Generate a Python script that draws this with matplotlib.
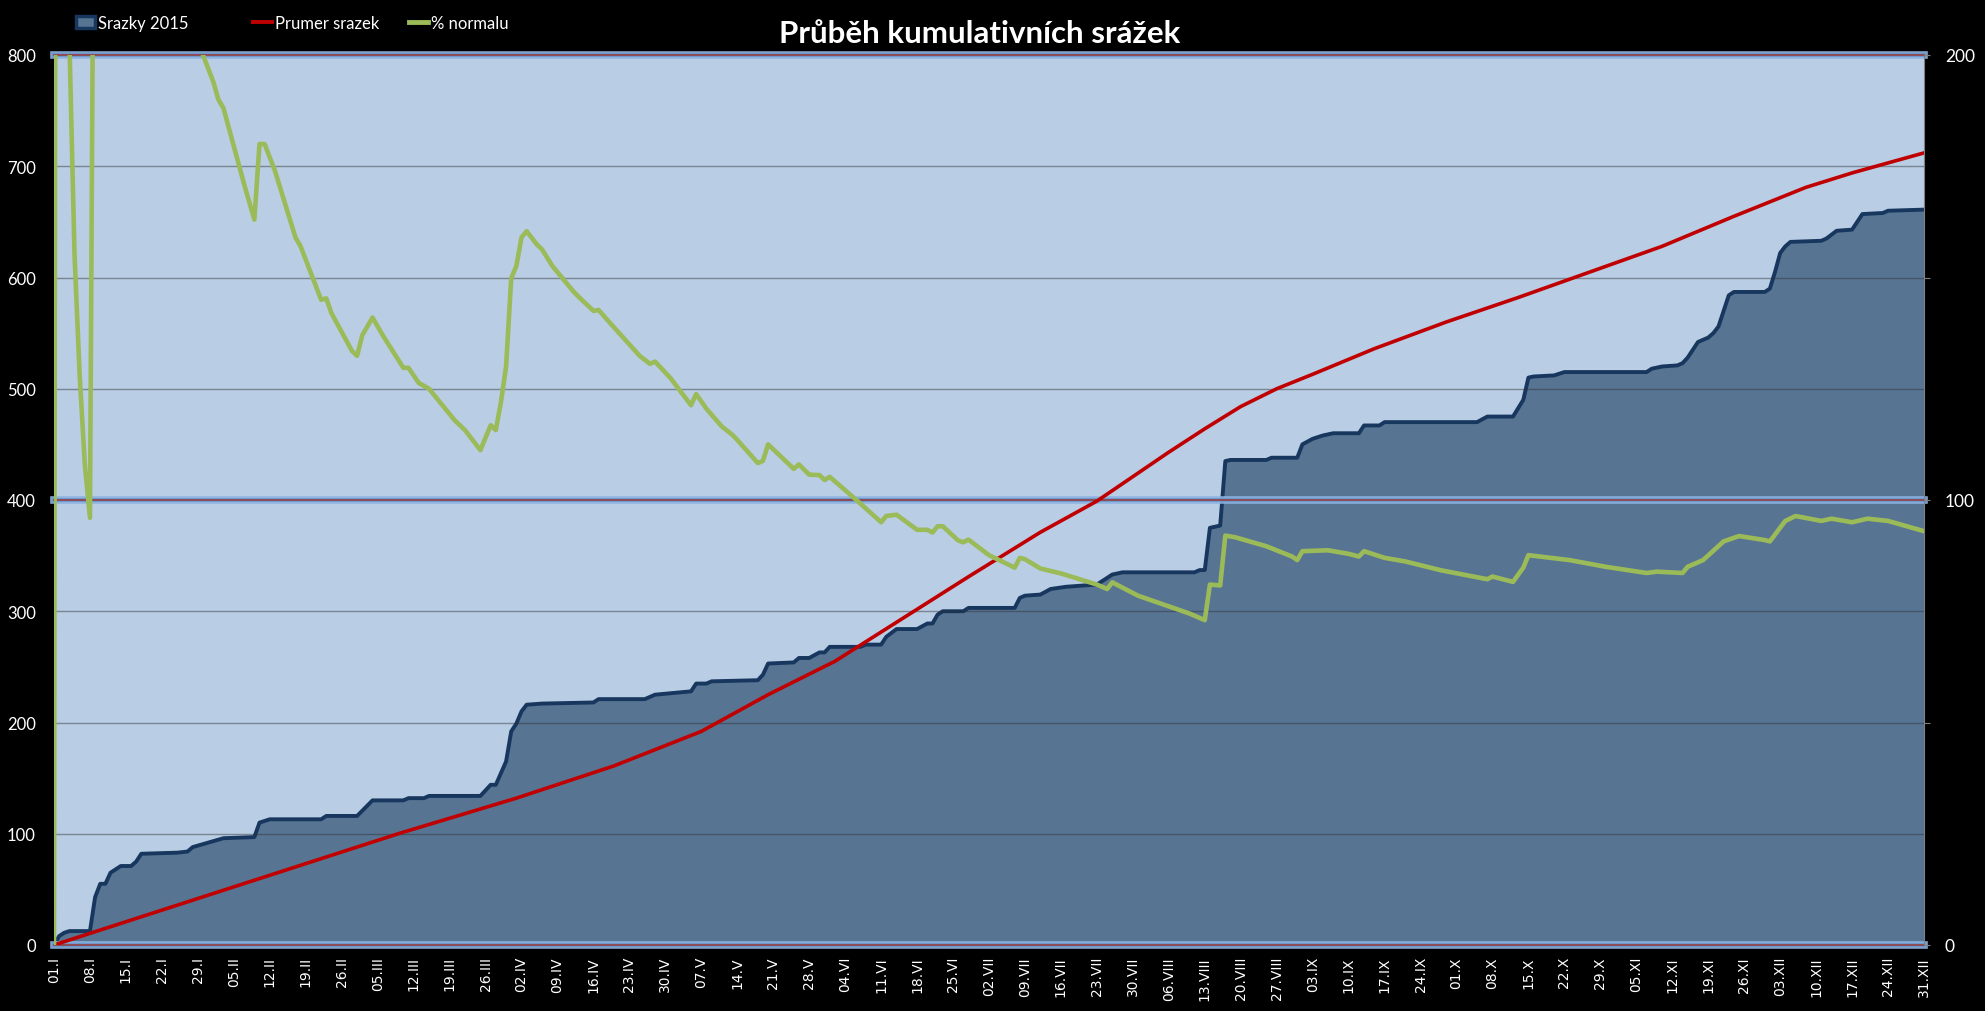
import matplotlib.pyplot as plt
from matplotlib.lines import Line2D
from matplotlib.patches import Patch

# day index 0 = 01.I.2015
srazky_days = [0, 1, 2, 3, 7, 8, 9, 10, 11, 13, 15, 16, 17, 24, 26, 27, 30, 33, 39, 40,
               42, 52, 53, 59, 62, 68, 69, 72, 73, 83, 85, 86, 88, 89, 90, 91, 92, 95, 105, 106,
               115, 117, 124, 125, 127, 128, 137, 138, 139, 144, 145, 147, 149, 150, 151, 157, 158, 161, 162, 164,
               168, 170, 171, 172, 173, 177, 178, 187, 188, 189, 192, 194, 197, 203, 204, 206, 208, 222, 223, 224,
               225, 227, 228, 229, 236, 237, 242, 243, 245, 247, 249, 254, 255, 258, 259, 277, 279, 284, 286, 287,
               288, 292, 294, 310, 311, 313, 316, 317, 318, 319, 320, 322, 323, 324, 325, 326, 327, 333, 334, 335,
               336, 337, 338, 344, 345, 347, 350, 351, 352, 356, 357, 364]
srazky_mm = [0, 8, 11, 12.5, 12.5, 43, 55, 55, 65, 71, 71, 75, 82, 83, 84, 88, 92, 96, 97, 110,
             113, 113, 116, 116, 130, 130, 132, 132, 134, 134, 144, 144, 165, 192, 199, 210, 216, 217, 218, 221,
             221, 225, 228, 235, 235, 237, 238, 243, 253, 254, 258, 258, 263, 263, 268, 268, 270, 270, 277, 284,
             284, 289, 289, 297, 300, 300, 303, 303, 312, 314, 315, 320, 322, 324, 327, 333, 335, 335, 337, 337,
             375, 377, 435, 436, 436, 438, 438, 450, 455, 458, 460, 460, 467, 467, 470, 470, 475, 475, 490, 510,
             511, 512, 515, 515, 518, 520, 521, 523, 528, 535, 542, 546, 550, 556, 570, 584, 587, 587, 590, 605,
             622, 628, 632, 633, 635, 642, 643, 650, 657, 658, 660, 661]

prumer_days = [0, 67, 90, 109, 126, 139, 152, 165, 178, 192, 203, 210, 217, 224, 231, 238, 245,
               257, 271, 285, 299, 313, 327, 341, 350, 357, 364]
prumer_mm = [0, 100, 132, 161, 192, 225, 255, 293, 331, 371, 399, 421, 443, 464, 484, 500, 513,
             536, 560, 582, 605, 628, 655, 681, 694, 703, 712]

normal_days = [0, 1, 2, 3, 4, 5, 6, 7, 8, 9, 20, 28, 29, 31, 32, 33, 37, 39, 40, 41,
               43, 47, 48, 52, 53, 54, 58, 59, 60, 62, 64, 68, 69, 71, 73, 78, 80, 83, 85, 86,
               87, 88, 89, 90, 91, 92, 94, 95, 97, 101, 102, 105, 106, 109, 114, 116, 117, 120, 124, 125,
               127, 130, 132, 133, 137, 138, 139, 144, 145, 147, 149, 150, 151, 156, 161, 162, 164, 168, 170, 171,
               172, 173, 176, 177, 178, 182, 187, 188, 189, 192, 196, 203, 205, 206, 211, 221, 224, 225, 227, 228,
               230, 236, 241, 242, 243, 248, 252, 254, 255, 259, 263, 270, 279, 280, 284, 286, 287, 295, 302, 310,
               312, 317, 318, 321, 325, 328, 333, 334, 337, 339, 344, 346, 350, 353, 357, 364]
normal_pct = [0, 900, 300, 203, 155, 128, 108, 96, 300, 400, 270, 203, 200, 194, 190, 188, 171, 163, 180, 180,
              174, 159, 157, 145, 145.3, 142, 133.5, 132.4, 137, 141, 137, 129.7, 129.7, 126.3, 125, 117.9, 115.7, 111.2, 116.8, 115.7,
              122, 130, 149.8, 152.6, 159, 160.4, 157.4, 156.3, 152.6, 147, 145.8, 142.5, 142.7, 138.8, 132.4, 130.6, 131.1, 127.4, 121.3, 123.8,
              120.5, 116.5, 114.7, 113.5, 108.3, 108.8, 112.5, 107, 108, 105.7, 105.6, 104.5, 105.2, 100.2, 95, 96.4, 96.7, 93.3, 93.3, 92.7,
              94.1, 94.1, 90.9, 90.5, 91.1, 87.6, 84.8, 87, 86.7, 84.6, 83.5, 81, 80, 81.5, 78.5, 74.5, 73, 81, 80.8, 92,
              91.6, 89.6, 87.3, 86.5, 88.5, 88.7, 87.9, 87.3, 88.5, 87, 86.2, 84.2, 82.2, 82.8, 81.6, 84.8, 87.6, 86.5, 85, 83.6,
              83.9, 83.6, 85, 86.5, 90.7, 91.9, 91, 90.7, 95.3, 96.4, 95.3, 95.8, 95, 95.8, 95.3, 93]

tick_days = list(range(0, 365, 7))
tick_labels = ['01.I', '08.I', '15.I', '22.I', '29.I', '05.II', '12.II', '19.II', '26.II',
               '05.III', '12.III', '19.III', '26.III', '02.IV', '09.IV', '16.IV', '23.IV', '30.IV',
               '07.V', '14.V', '21.V', '28.V', '04.VI', '11.VI', '18.VI', '25.VI',
               '02.VII', '09.VII', '16.VII', '23.VII', '30.VII', '06.VIII', '13.VIII', '20.VIII', '27.VIII',
               '03.IX', '10.IX', '17.IX', '24.IX', '01.X', '08.X', '15.X', '22.X', '29.X',
               '05.XI', '12.XI', '19.XI', '26.XI', '03.XII', '10.XII', '17.XII', '24.XII', '31.XII']

FILL = '#587493'
NAVY = '#17375E'
RED = '#C00000'
GREEN = '#9BBB59'

plt.rcParams['font.family'] = ['Lato', 'DejaVu Sans']

fig = plt.figure(figsize=(19.85, 10.12), dpi=100, facecolor='black')
ax = fig.add_axes([54 / 1985, 66 / 1012, 1870 / 1985, 890 / 1012])
ax.set_facecolor('#B9CDE5')

ax.fill_between(srazky_days, srazky_mm, color=FILL, lw=0, zorder=2)
ax.plot(srazky_days, srazky_mm, color=NAVY, lw=2.8, zorder=3, solid_joinstyle='round')

# gridlines sit over the area
for v in [100, 200, 300, 500, 600, 700]:
    ax.axhline(v, color='#303030', alpha=0.45, lw=1.0, zorder=4)
# glowing lines at 0 / 400 / 800
for v in [0, 400, 800]:
    ax.axhline(v, color='#8DB4E2', lw=5.5, alpha=0.9, zorder=5, clip_on=False)
    ax.axhline(v, color='#6A95CC', lw=3, alpha=0.8, zorder=5, clip_on=False)
    ax.axhline(v, color='#963634', lw=1.1, zorder=6, clip_on=False)

ax.plot(prumer_days, prumer_mm, color=RED, lw=2.6, zorder=7, solid_joinstyle='round')

ax.set_xlim(0, 364)
ax.set_ylim(0, 800)
ax.set_yticks(range(0, 801, 100))
ax.set_xticks(tick_days)
ax.set_xticklabels(tick_labels, rotation=90, fontsize=10, family='DejaVu Sans', color='white')
ax.tick_params(axis='x', length=0, pad=8)
ax.tick_params(axis='y', length=0, pad=13, labelsize=12, labelcolor='white')
for s in ax.spines.values():
    s.set_visible(False)

ax2 = ax.twinx()
ax2.plot(normal_days, normal_pct, color=GREEN, lw=3.3, solid_joinstyle='round', zorder=8)
ax2.set_ylim(0, 200)
ax2.set_yticks([0, 50, 100, 150, 200])
ax2.set_yticklabels(['0', '', '100', '', '200'])
ax2.tick_params(axis='y', length=4, color='#808080', pad=11, labelsize=12.5, labelcolor='white')
for s in ax2.spines.values():
    s.set_visible(False)
ax2.spines['right'].set_visible(True)
ax2.spines['right'].set_color('#808080')

fig.text(980 / 1985, 1 - 34 / 1012, 'Průběh kumulativních srážek', color='white',
         fontsize=22.5, fontweight='bold', ha='center', va='center')

handles = [Patch(facecolor=FILL, edgecolor=NAVY, lw=2.5),
           Line2D([], [], color=RED, lw=2.8),
           Line2D([], [], color=GREEN, lw=3.5)]
names = ['Srazky 2015', 'Prumer srazek', '% normalu']
xs = [76, 253, 409]
for h, n, x in zip(handles, names, xs):
    fig.legend(handles=[h], labels=[n], loc='center left', bbox_to_anchor=(x / 1985, 1 - 24 / 1012),
               frameon=False, fontsize=12, labelcolor='white', handlelength=1.15,
               handletextpad=0.15, borderpad=0, borderaxespad=0)

fig.savefig('out.png', dpi=100, facecolor='black')
